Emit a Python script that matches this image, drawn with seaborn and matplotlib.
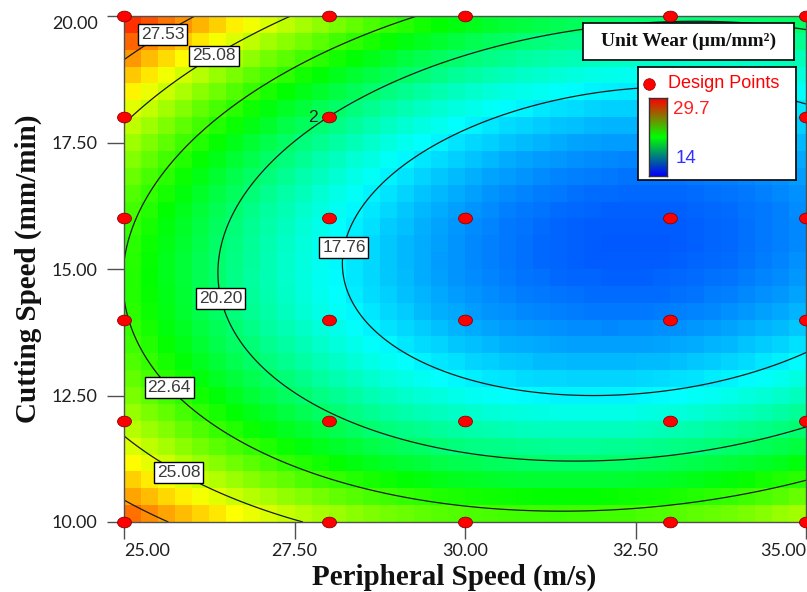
import numpy as np
import matplotlib
matplotlib.use("Agg")
import matplotlib.pyplot as plt
from matplotlib.colors import LinearSegmentedColormap, Normalize
from matplotlib.path import Path
import seaborn as sns

# design points: peripheral speed (m/s), cutting speed (mm/min)
design_speed = [25, 28, 30, 33, 35,
                25, 28, 33, 35,
                25, 28, 30, 33, 35,
                25, 28, 30, 33, 35,
                25, 28, 30, 33, 35,
                25, 28, 30, 33, 35]
design_cut = [20, 20, 20, 20, 20,
              18, 18, 18, 18,
              16, 16, 16, 16, 16,
              14, 14, 14, 14, 14,
              12, 12, 12, 12, 12,
              10, 10, 10, 10, 10]

# fitted quadratic response
wear_min = 15.39
speed_at_min = 32.5
cut_at_min = 15.55
coef_speed2 = 0.131
coef_cut2 = 0.26
coef_cross = -0.053

contour_levels = [17.76, 20.20, 22.64, 25.08, 27.53]
label_spots = [(25.56, 19.66), (26.33, 19.19), (25.67, 12.67),
               (25.79, 10.95), (26.45, 14.43), (28.21, 15.43)]
wear_low, wear_high = 14, 29.7

x_ticks = [25, 27.5, 30, 32.5, 35]
y_ticks = [10, 12.5, 15, 17.5, 20]


def wear(s, c):
    u = s - speed_at_min
    v = c - cut_at_min
    return wear_min + coef_speed2 * u**2 + coef_cut2 * v**2 + coef_cross * u * v


sns.set_theme(style="white")
plt.rcParams['font.family'] = ['Lato', 'DejaVu Sans']

fig = plt.figure(figsize=(8.07, 5.92), dpi=100)
ax = fig.add_axes([124 / 807, 70 / 592, 682 / 807, 506 / 592])

cmap = LinearSegmentedColormap.from_list(
    "de", ["#0000ff", "#00ffff", "#00ff00", "#ffff00", "#ff0000"])
norm = Normalize(wear_low, wear_high)

# blocky surface
se = np.linspace(25, 35, 41)
ce = np.linspace(10, 20, 31)
sc, cc = np.meshgrid((se[:-1] + se[1:]) / 2, (ce[:-1] + ce[1:]) / 2)
ax.pcolormesh(se, ce, wear(sc, cc), cmap=cmap, norm=norm, shading="flat")

# contour lines
sf, cf = np.meshgrid(np.linspace(25, 35, 300), np.linspace(10, 20, 300))
cs = ax.contour(sf, cf, wear(sf, cf), levels=contour_levels,
                colors="#1a1a1a", linewidths=0.9)
labels = ax.clabel(cs, fmt="%.2f", inline=False, fontsize=12.5,
                   manual=label_spots, colors="#3a3a3a")
for t in labels:
    t.set_rotation(0)
    t.set_family(['Liberation Sans'])
    t.set_bbox(dict(facecolor="white", edgecolor="black", linewidth=1, pad=2))
    t.set_zorder(5)
ax.text(27.84, 18.0, "2", fontsize=12.5, family=['Liberation Sans'],
        ha="right", va="center", color="#202020", zorder=5)

# design points
oval = np.linspace(0, 2 * np.pi, 40)
oval_marker = Path(np.column_stack([1.3 * np.cos(oval), np.sin(oval)]), closed=True)
sns.scatterplot(x=design_speed, y=design_cut, ax=ax, marker=oval_marker, s=100,
                color="#ff0000", edgecolor="#8b0000", linewidth=0.6,
                clip_on=False, zorder=6, legend=False)

ax.set_xlim(25, 35)
ax.set_ylim(10, 20)
ax.set_xticks(x_ticks)
ax.set_yticks(y_ticks)
ax.set_xticklabels([f"{v:.2f}" for v in x_ticks])
ax.set_yticklabels([f"{v:.2f}" for v in y_ticks])
ax.tick_params(axis="both", which="major", direction="out", length=12,
               width=1, color="#505050", labelsize=13, labelcolor="#202020",
               left=True, bottom=True)
ax.tick_params(axis="y", pad=7)
ax.tick_params(axis="x", pad=3)
xl = ax.get_xticklabels()
xl[0].set_horizontalalignment("left")
xl[0].set_x(24.7)
xl[-1].set_horizontalalignment("right")
yl = ax.get_yticklabels()
yl[-1].set_verticalalignment("top")
yl[-1].set_y(20.3)
for sp in ax.spines.values():
    sp.set_color("#505050")
    sp.set_linewidth(1)
    sp.set_zorder(4)

ax.set_xlabel("Peripheral Speed (m/s)", family=['Liberation Serif'],
              fontweight="bold", fontsize=21, color="#111111")
ax.set_ylabel("Cutting Speed (mm/min)", family=['Liberation Serif'],
              fontweight="bold", fontsize=21, color="#111111")
ax.xaxis.set_label_coords(0.484, -0.082)
ax.yaxis.set_label_coords(-0.12, 0.5)

# legend title box
tb = fig.add_axes([583 / 807, 532 / 592, 211 / 807, 37 / 592])
tb.set_xticks([])
tb.set_yticks([])
tb.set_facecolor("white")
for sp in tb.spines.values():
    sp.set_color("black")
    sp.set_linewidth(1.2)
tb.text(0.5, 0.5, "Unit Wear (µm/mm²)", ha="center", va="center",
        family=['Liberation Serif'], fontweight="bold", fontsize=14,
        color="#111111")

# legend box with design points and color key
lb = fig.add_axes([638 / 807, 412 / 592, 158 / 807, 113 / 592])
lb.set_xticks([])
lb.set_yticks([])
lb.set_xlim(0, 1)
lb.set_ylim(0, 1)
lb.set_facecolor("white")
for sp in lb.spines.values():
    sp.set_color("black")
    sp.set_linewidth(1.2)
lb.scatter([0.07], [0.85], marker="o", s=70, color="#ff0000",
           edgecolor="#8b0000", linewidth=0.5)
lb.text(0.19, 0.85, "Design Points", color="#ff0000", fontsize=13,
        family=['Liberation Sans'], va="center", ha="left")
lb.text(0.22, 0.62, f"{wear_high}", color="#ff2020", fontsize=13.5,
        family=['Liberation Sans'], va="center", ha="left")
lb.text(0.24, 0.19, f"{wear_low}", color="#3030ff", fontsize=13.5,
        family=['Liberation Sans'], va="center", ha="left")

cb = fig.add_axes([649 / 807, 416 / 592, 18 / 807, 78 / 592])
key_cmap = LinearSegmentedColormap.from_list("key", ["#0000ff", "#00ff00", "#ff0000"])
cb.imshow(np.linspace(0, 1, 100).reshape(-1, 1), cmap=key_cmap, aspect="auto",
          origin="lower")
cb.set_xticks([])
cb.set_yticks([])
for sp in cb.spines.values():
    sp.set_color("#333333")
    sp.set_linewidth(1)

fig.savefig("out.png", dpi=100)
